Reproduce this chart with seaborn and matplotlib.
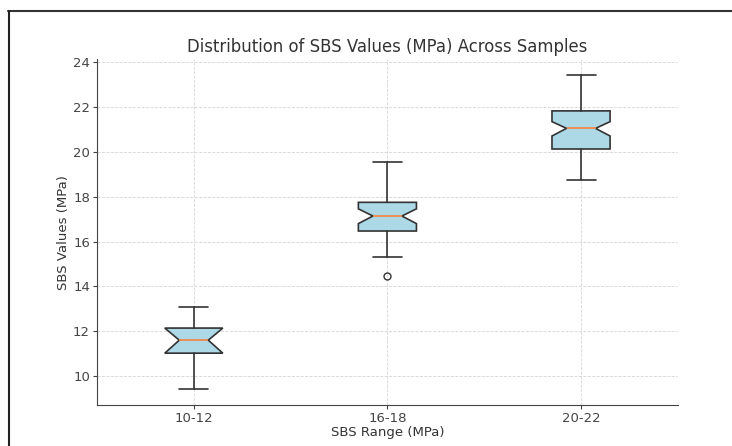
import matplotlib
matplotlib.use("Agg")
import matplotlib.pyplot as plt
import seaborn as sns
from matplotlib.lines import Line2D

# values
ranges = ["10-12", "16-18", "20-22"]
whislo = [9.41, 15.32, 18.74]
q1 = [11.02, 16.47, 20.13]
med = [11.60, 17.14, 21.05]
q3 = [12.14, 17.75, 21.83]
whishi = [13.08, 19.54, 23.43]
ci_lo = [11.02, 16.80, 20.71]
ci_hi = [12.14, 17.46, 21.35]
outliers = [[], [14.46], []]

sns.set_style("ticks", {"axes.edgecolor": "#444444", "xtick.color": "#444444",
                        "ytick.color": "#444444", "text.color": "#333333",
                        "axes.labelcolor": "#333333"})
plt.rcParams['font.family'] = ['DejaVu Sans']

stats = []
for i, lab in enumerate(ranges):
    stats.append({"label": lab, "whislo": whislo[i], "q1": q1[i], "med": med[i],
                  "q3": q3[i], "whishi": whishi[i], "cilo": ci_lo[i],
                  "cihi": ci_hi[i], "fliers": outliers[i]})

fig = plt.figure(figsize=(7.32, 4.46), dpi=100)
ax = fig.add_axes([0.1325, 0.092, 0.7935, 0.775])

ax.bxp(stats, shownotches=True, patch_artist=True, widths=0.3,
       boxprops=dict(facecolor="lightblue", edgecolor="#333333", linewidth=1.2),
       medianprops=dict(color="#f5813f", linewidth=1.2),
       whiskerprops=dict(color="#333333", linewidth=1.2),
       capprops=dict(color="#333333", linewidth=1.2),
       flierprops=dict(marker="o", markerfacecolor="none", markeredgecolor="#333333",
                       markersize=5))

ax.set_xlim(0.5, 3.5)
ax.grid(True, linestyle="--", linewidth=0.6, color="#d6d6d6")
ax.set_axisbelow(True)
sns.despine(ax=ax)
ax.tick_params(labelsize=9.5, length=3, pad=2)

ax.set_title("Distribution of SBS Values (MPa) Across Samples", fontsize=11.9, pad=5)
ax.set_xlabel("SBS Range (MPa)", fontsize=9.5, labelpad=1)
ax.set_ylabel("SBS Values (MPa)", fontsize=9.5, labelpad=2)

# screenshot frame (top and left edges)
fig.add_artist(Line2D([8 / 732, 1], [1 - 11 / 446, 1 - 11 / 446],
                      transform=fig.transFigure, color="#333333", linewidth=1.5))
fig.add_artist(Line2D([9 / 732, 9 / 732], [0, 1 - 11 / 446],
                      transform=fig.transFigure, color="#222222", linewidth=1.5))

fig.savefig("out.png", dpi=100)
